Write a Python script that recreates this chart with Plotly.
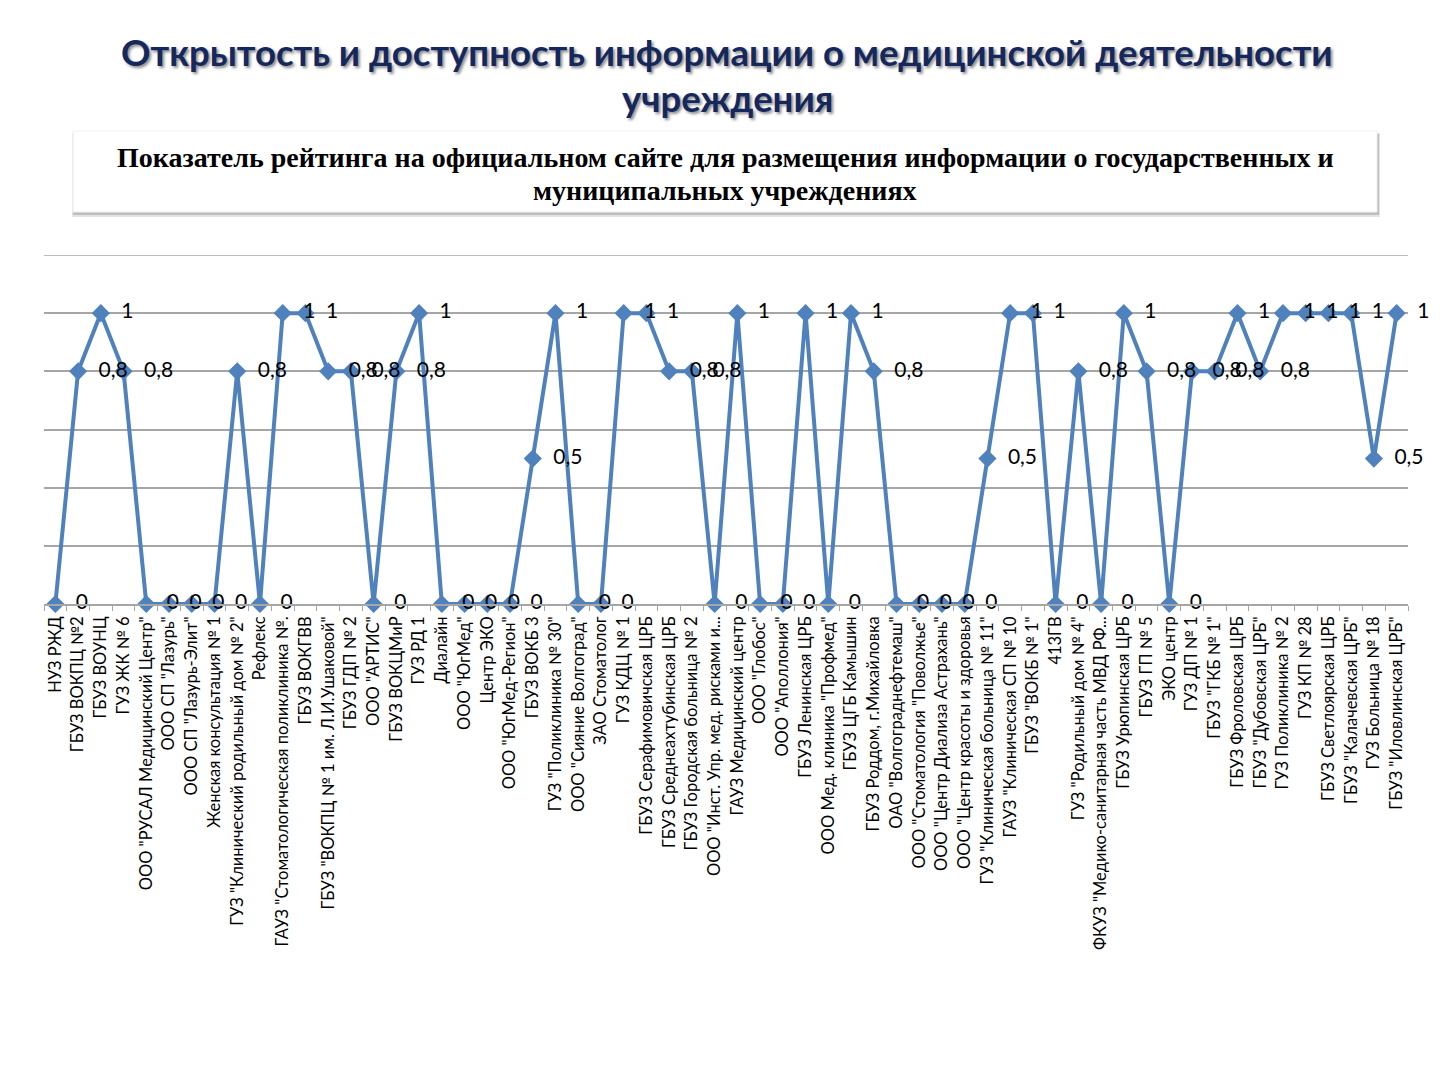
import plotly.graph_objects as go

# Организации (подписи оси X)
ORGS = [
    'НУЗ РЖД', 'ГБУЗ ВОКПЦ №2', 'ГБУЗ ВОУНЦ', 'ГУЗ ЖК № 6', 'ООО "РУСАЛ Медицинский Центр"',
    'ООО СП "Лазурь"', 'ООО СП "Лазурь-Элит"', 'Женская консультация № 1',
    'ГУЗ "Клинический родильный дом № 2"', 'Рефлекс', 'ГАУЗ "Стоматологическая поликлиника №.',
    'ГБУЗ ВОКГВВ', 'ГБУЗ "ВОКПЦ № 1 им. Л.И.Ушаковой"', 'ГБУЗ ГДП № 2', 'ООО "АРТИС"',
    'ГБУЗ ВОКЦМиР', 'ГУЗ РД 1', 'Диалайн', 'ООО "ЮгМед"', 'Центр ЭКО', 'ООО "ЮгМед-Регион"',
    'ГБУЗ ВОКБ 3', 'ГУЗ "Поликлиника № 30"', 'ООО "Сияние Волгоград"', 'ЗАО Стоматолог',
    'ГУЗ КДЦ № 1', 'ГБУЗ Серафимовичская ЦРБ', 'ГБУЗ Среднеахтубинская ЦРБ',
    'ГБУЗ Городская больница № 2', 'ООО "Инст. Упр. мед. рисками и...', 'ГАУЗ Медицинский центр',
    'ООО "Глобос"', 'ООО "Аполлония"', 'ГБУЗ Ленинская ЦРБ', 'ООО Мед. клиника "Профмед"',
    'ГБУЗ ЦГБ Камышин', 'ГБУЗ Роддом, г.Михайловка', 'ОАО "Волгограднефтемаш"',
    'ООО "Стоматология "Поволжье"', 'ООО "Центр Диализа Астрахань"', 'ООО "Центр красоты и здоровья',
    'ГУЗ "Клиническая больница № 11"', 'ГАУЗ "Клиническая СП № 10', 'ГБУЗ "ВОКБ № 1"', '413ГВ',
    'ГУЗ "Родильный дом № 4"', 'ФКУЗ "Медико-санитарная часть МВД РФ...', 'ГБУЗ Урюпинская ЦРБ',
    'ГБУЗ ГП № 5', 'ЭКО центр', 'ГУЗ ДП № 1', 'ГБУЗ "ГКБ № 1"', 'ГБУЗ Фроловская ЦРБ',
    'ГБУЗ "Дубовская ЦРБ"', 'ГУЗ Поликлиника № 2', 'ГУЗ КП № 28', 'ГБУЗ Светлоярская ЦРБ',
    'ГБУЗ "Калачевская ЦРБ"', 'ГУЗ Больница № 18', 'ГБУЗ "Иловлинская ЦРБ"',
]

# Показатель рейтинга
SCORES = [
    0, 0.8, 1, 0.8, 0, 0, 0, 0, 0.8, 0,
    1, 1, 0.8, 0.8, 0, 0.8, 1, 0, 0, 0,
    0, 0.5, 1, 0, 0, 1, 1, 0.8, 0.8, 0,
    1, 0, 0, 1, 0, 1, 0.8, 0, 0, 0,
    0, 0.5, 1, 1, 0, 0.8, 0, 1, 0.8, 0,
    0.8, 0.8, 1, 0.8, 1, 1, 1, 1, 0.5, 1,
]

Y_TICKS = [0, 0.2, 0.4, 0.6, 0.8, 1.0, 1.2]

TITLE_LINES = ['Открытость и доступность информации о медицинской деятельности', 'учреждения']
SUBTITLE_LINES = ['Показатель рейтинга на официальном сайте для размещения информации о государственных и',
                  'муниципальных учреждениях']

LINE_COLOR = '#4F81BD'
GRID_COLOR = '#A6A6A6'
SANS = 'Lato, Open Sans, sans-serif'
SERIF = 'Liberation Serif, Times New Roman, serif'

# область построения (в пикселях страницы; страница сдвинута на 8px отступом body)
OFF = 8
PLOT_L, PLOT_R, PLOT_T, PLOT_B = 44, 1408, 255, 604
FIG_W, FIG_H = 1424, 1064


def px(x):
    return (x - PLOT_L) / (PLOT_R - PLOT_L)


def py(y):
    return (PLOT_B - y) / (PLOT_B - PLOT_T)


def fmt(v):
    """Подпись в стиле Excel: запятая как разделитель"""
    return ('%g' % v).replace('.', ',')


fig = go.Figure()
fig.add_trace(go.Scatter(
    x=ORGS, y=SCORES, mode='lines+markers+text',
    line=dict(color=LINE_COLOR, width=4),
    marker=dict(symbol='diamond', size=14, color=LINE_COLOR),
    text=['  ' + fmt(v) for v in SCORES], textposition='middle right',
    textfont=dict(family=SANS, size=21, color='black'),
    cliponaxis=False, showlegend=False,
))

# верхняя линия сетки (plotly не рисует её на краю области)
fig.add_shape(type='line', xref='paper', yref='y', x0=0, x1=1, y0=Y_TICKS[-1], y1=Y_TICKS[-1],
              line=dict(color=GRID_COLOR, width=1.5), layer='below')

# подложка подзаголовка (тень + белый прямоугольник)
fig.add_shape(type='rect', xref='paper', yref='paper', x0=px(72), x1=px(1380), y0=py(217), y1=py(133),
              line=dict(width=0), fillcolor='#E4E4E4', layer='below')
fig.add_shape(type='rect', xref='paper', yref='paper', x0=px(73), x1=px(1379), y0=py(215), y1=py(134),
              line=dict(width=0), fillcolor='#BEBEBE', layer='below')
fig.add_shape(type='rect', xref='paper', yref='paper', x0=px(73), x1=px(1377), y0=py(212), y1=py(131),
              line=dict(width=1, color='#F0F0F0'), fillcolor='white', layer='below')

annotations = []
for text, yc in zip(TITLE_LINES, [52, 98]):
    annotations.append(dict(text=text, xref='paper', yref='paper', x=px(727), y=py(yc),
                            xanchor='center', yanchor='middle', showarrow=False,
                            font=dict(family=SANS, size=36.5, color='#14285E', weight='bold',
                                      shadow='2px 2px 3px #8A8A8A')))
for text, yc in zip(SUBTITLE_LINES, [158, 191]):
    annotations.append(dict(text=text, xref='paper', yref='paper', x=px(725), y=py(yc),
                            xanchor='center', yanchor='middle', showarrow=False,
                            font=dict(family=SERIF, size=28, color='black', weight='bold')))

fig.update_layout(
    width=FIG_W, height=FIG_H,
    margin=dict(l=PLOT_L - OFF, r=FIG_W - (PLOT_R - OFF), t=PLOT_T - OFF, b=FIG_H - (PLOT_B - OFF)),
    paper_bgcolor='white', plot_bgcolor='white',
    annotations=annotations,
    xaxis=dict(
        type='category', range=[-0.5, len(ORGS) - 0.5], tickangle=-90,
        tickfont=dict(family=SANS, size=16.5, color='black'),
        showgrid=False, showline=True, linecolor=GRID_COLOR, linewidth=1.5,
        ticks='outside', tickson='boundaries', ticklen=5, tickcolor=GRID_COLOR,
        ticklabelstandoff=4, automargin=False,
    ),
    yaxis=dict(
        range=[0, 1.2], tickmode='array', tickvals=Y_TICKS, showticklabels=False, showgrid=True,
        gridcolor=GRID_COLOR, gridwidth=1.5, zeroline=False, showline=False,
    ),
)

fig.write_html('out.html')
